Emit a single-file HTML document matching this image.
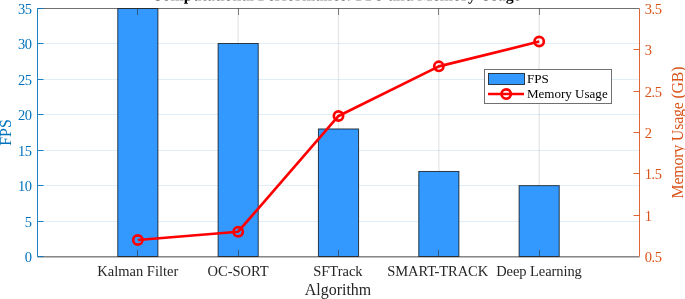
<!DOCTYPE html>
<html lang="en"><head><meta charset="utf-8"><title>Computational Performance: FPS and Memory Usage</title>
<style>html,body{margin:0;padding:0;background:#fff;overflow:hidden}</style></head>
<body>
<svg width="685" height="299" viewBox="0 0 685 299" style="display:block" font-family="'Liberation Serif', serif">
<rect width="685" height="299" fill="#fff"/>
<line x1="137.83" y1="8.5" x2="137.83" y2="256.5" stroke="#262626" stroke-opacity="0.115" stroke-width="1.3"/>
<line x1="238.17" y1="8.5" x2="238.17" y2="256.5" stroke="#262626" stroke-opacity="0.115" stroke-width="1.3"/>
<line x1="338.50" y1="8.5" x2="338.50" y2="256.5" stroke="#262626" stroke-opacity="0.115" stroke-width="1.3"/>
<line x1="438.83" y1="8.5" x2="438.83" y2="256.5" stroke="#262626" stroke-opacity="0.115" stroke-width="1.3"/>
<line x1="539.17" y1="8.5" x2="539.17" y2="256.5" stroke="#262626" stroke-opacity="0.115" stroke-width="1.3"/>
<line x1="37.5" y1="221.50" x2="639.5" y2="221.50" stroke="#0072BD" stroke-opacity="0.12" stroke-width="1"/>
<line x1="37.5" y1="185.50" x2="639.5" y2="185.50" stroke="#0072BD" stroke-opacity="0.12" stroke-width="1"/>
<line x1="37.5" y1="150.50" x2="639.5" y2="150.50" stroke="#0072BD" stroke-opacity="0.12" stroke-width="1"/>
<line x1="37.5" y1="114.50" x2="639.5" y2="114.50" stroke="#0072BD" stroke-opacity="0.12" stroke-width="1"/>
<line x1="37.5" y1="79.50" x2="639.5" y2="79.50" stroke="#0072BD" stroke-opacity="0.12" stroke-width="1"/>
<line x1="37.5" y1="43.50" x2="639.5" y2="43.50" stroke="#0072BD" stroke-opacity="0.12" stroke-width="1"/>
<rect x="117.77" y="8.50" width="40.13" height="248.00" fill="#3399FF" stroke="#000" stroke-opacity="0.72" stroke-width="1"/>
<rect x="218.10" y="43.50" width="40.13" height="213.00" fill="#3399FF" stroke="#000" stroke-opacity="0.72" stroke-width="1"/>
<rect x="318.43" y="128.96" width="40.13" height="127.54" fill="#3399FF" stroke="#000" stroke-opacity="0.72" stroke-width="1"/>
<rect x="418.77" y="171.47" width="40.13" height="85.03" fill="#3399FF" stroke="#000" stroke-opacity="0.72" stroke-width="1"/>
<rect x="519.10" y="185.64" width="40.13" height="70.86" fill="#3399FF" stroke="#000" stroke-opacity="0.72" stroke-width="1"/>
<line x1="37.5" y1="256.5" x2="639.5" y2="256.5" stroke="#262626" stroke-opacity="0.55" stroke-width="1"/>
<line x1="37.5" y1="257.5" x2="639.5" y2="257.5" stroke="#262626" stroke-opacity="0.3" stroke-width="1"/>
<line x1="37.5" y1="8.5" x2="639.5" y2="8.5" stroke="#262626" stroke-opacity="0.66" stroke-width="1"/>
<line x1="137.50" y1="256.5" x2="137.50" y2="250.0" stroke="#262626" stroke-opacity="0.55" stroke-width="1"/>
<line x1="137.50" y1="8.5" x2="137.50" y2="15.0" stroke="#262626" stroke-opacity="0.55" stroke-width="1"/>
<line x1="238.50" y1="256.5" x2="238.50" y2="250.0" stroke="#262626" stroke-opacity="0.55" stroke-width="1"/>
<line x1="238.50" y1="8.5" x2="238.50" y2="15.0" stroke="#262626" stroke-opacity="0.55" stroke-width="1"/>
<line x1="338.50" y1="256.5" x2="338.50" y2="250.0" stroke="#262626" stroke-opacity="0.55" stroke-width="1"/>
<line x1="338.50" y1="8.5" x2="338.50" y2="15.0" stroke="#262626" stroke-opacity="0.55" stroke-width="1"/>
<line x1="438.50" y1="256.5" x2="438.50" y2="250.0" stroke="#262626" stroke-opacity="0.55" stroke-width="1"/>
<line x1="438.50" y1="8.5" x2="438.50" y2="15.0" stroke="#262626" stroke-opacity="0.55" stroke-width="1"/>
<line x1="539.50" y1="256.5" x2="539.50" y2="250.0" stroke="#262626" stroke-opacity="0.55" stroke-width="1"/>
<line x1="539.50" y1="8.5" x2="539.50" y2="15.0" stroke="#262626" stroke-opacity="0.55" stroke-width="1"/>
<line x1="37.5" y1="8.5" x2="37.5" y2="256.5" stroke="#0072BD" stroke-opacity="0.88" stroke-width="1"/>
<line x1="639.5" y1="8.5" x2="639.5" y2="256.5" stroke="#D95319" stroke-opacity="0.88" stroke-width="1"/>
<line x1="37.5" y1="256.50" x2="43.5" y2="256.50" stroke="#0072BD" stroke-opacity="0.88" stroke-width="1"/>
<text x="32.0" y="262.00" font-size="14.5" fill="#0072BD" text-anchor="end">0</text>
<line x1="37.5" y1="221.50" x2="43.5" y2="221.50" stroke="#0072BD" stroke-opacity="0.88" stroke-width="1"/>
<text x="32.0" y="227.00" font-size="14.5" fill="#0072BD" text-anchor="end">5</text>
<line x1="37.5" y1="185.50" x2="43.5" y2="185.50" stroke="#0072BD" stroke-opacity="0.88" stroke-width="1"/>
<text x="32.0" y="191.00" font-size="14.5" fill="#0072BD" text-anchor="end" textLength="14.0" lengthAdjust="spacing">10</text>
<line x1="37.5" y1="150.50" x2="43.5" y2="150.50" stroke="#0072BD" stroke-opacity="0.88" stroke-width="1"/>
<text x="32.0" y="156.00" font-size="14.5" fill="#0072BD" text-anchor="end" textLength="14.0" lengthAdjust="spacing">15</text>
<line x1="37.5" y1="114.50" x2="43.5" y2="114.50" stroke="#0072BD" stroke-opacity="0.88" stroke-width="1"/>
<text x="32.0" y="120.00" font-size="14.5" fill="#0072BD" text-anchor="end" textLength="14.0" lengthAdjust="spacing">20</text>
<line x1="37.5" y1="79.50" x2="43.5" y2="79.50" stroke="#0072BD" stroke-opacity="0.88" stroke-width="1"/>
<text x="32.0" y="85.00" font-size="14.5" fill="#0072BD" text-anchor="end" textLength="14.0" lengthAdjust="spacing">25</text>
<line x1="37.5" y1="43.50" x2="43.5" y2="43.50" stroke="#0072BD" stroke-opacity="0.88" stroke-width="1"/>
<text x="32.0" y="49.00" font-size="14.5" fill="#0072BD" text-anchor="end" textLength="14.0" lengthAdjust="spacing">30</text>
<line x1="37.5" y1="8.50" x2="43.5" y2="8.50" stroke="#0072BD" stroke-opacity="0.88" stroke-width="1"/>
<text x="32.0" y="14.00" font-size="14.5" fill="#0072BD" text-anchor="end" textLength="14.0" lengthAdjust="spacing">35</text>
<text x="644.7" y="262.00" font-size="14.5" letter-spacing="-0.45" fill="#D95319">0.5</text>
<line x1="639.5" y1="215.50" x2="633.5" y2="215.50" stroke="#D95319" stroke-opacity="0.88" stroke-width="1"/>
<text x="644.7" y="221.00" font-size="14.5" letter-spacing="-0.45" fill="#D95319">1</text>
<line x1="639.5" y1="173.50" x2="633.5" y2="173.50" stroke="#D95319" stroke-opacity="0.88" stroke-width="1"/>
<text x="644.7" y="179.00" font-size="14.5" letter-spacing="-0.45" fill="#D95319">1.5</text>
<line x1="639.5" y1="132.50" x2="633.5" y2="132.50" stroke="#D95319" stroke-opacity="0.88" stroke-width="1"/>
<text x="644.7" y="138.00" font-size="14.5" letter-spacing="-0.45" fill="#D95319">2</text>
<line x1="639.5" y1="91.50" x2="633.5" y2="91.50" stroke="#D95319" stroke-opacity="0.88" stroke-width="1"/>
<text x="644.7" y="97.00" font-size="14.5" letter-spacing="-0.45" fill="#D95319">2.5</text>
<line x1="639.5" y1="49.50" x2="633.5" y2="49.50" stroke="#D95319" stroke-opacity="0.88" stroke-width="1"/>
<text x="644.7" y="55.00" font-size="14.5" letter-spacing="-0.45" fill="#D95319">3</text>
<text x="644.7" y="14.00" font-size="14.5" letter-spacing="-0.45" fill="#D95319">3.5</text>
<polyline points="137.83,239.97 238.17,231.70 338.50,115.97 438.83,66.37 539.17,41.57" fill="none" stroke="#FF0000" stroke-width="2.65" stroke-linejoin="round"/>
<circle cx="137.83" cy="239.97" r="4.65" fill="none" stroke="#FF0000" stroke-width="2.7"/>
<circle cx="238.17" cy="231.70" r="4.65" fill="none" stroke="#FF0000" stroke-width="2.7"/>
<circle cx="338.50" cy="115.97" r="4.65" fill="none" stroke="#FF0000" stroke-width="2.7"/>
<circle cx="438.83" cy="66.37" r="4.65" fill="none" stroke="#FF0000" stroke-width="2.7"/>
<circle cx="539.17" cy="41.57" r="4.65" fill="none" stroke="#FF0000" stroke-width="2.7"/>
<text x="137.8" y="275.8" font-size="14.5" fill="#262626" text-anchor="middle">Kalman Filter</text>
<text x="238.1" y="275.8" font-size="14.5" fill="#262626" text-anchor="middle">OC-SORT</text>
<text x="337.9" y="275.8" font-size="14.5" fill="#262626" text-anchor="middle">SFTrack</text>
<text x="437.7" y="275.8" font-size="14.5" fill="#262626" text-anchor="middle" textLength="100.9" lengthAdjust="spacing">SMART-TRACK</text>
<text x="539.0" y="275.8" font-size="14.5" fill="#262626" text-anchor="middle" textLength="85.6" lengthAdjust="spacing">Deep Learning</text>
<text x="338" y="295.2" font-size="15.95" fill="#262626" text-anchor="middle">Algorithm</text>
<text transform="translate(11.3,132.50) rotate(-90)" font-size="15.95" fill="#0072BD" text-anchor="middle">FPS</text>
<text transform="translate(682.9,132.50) rotate(-90)" font-size="15.95" fill="#D95319" text-anchor="middle" textLength="132.1" lengthAdjust="spacing">Memory Usage (GB)</text>
<text x="335.9" y="0.22" text-rendering="geometricPrecision" transform="rotate(0.03 335.9 0)" font-size="15.95" font-weight="bold" fill="#000" text-anchor="middle">Computational Performance: FPS and Memory Usage</text>
<rect x="484.5" y="69.5" width="127" height="34" fill="#fff" stroke="#262626" stroke-opacity="0.66" stroke-width="1"/>
<rect x="488.5" y="73.5" width="36" height="11" fill="#3399FF" stroke="#000" stroke-opacity="0.72" stroke-width="1"/>
<line x1="488" y1="94.1" x2="524" y2="94.1" stroke="#FF0000" stroke-width="2.5"/>
<circle cx="506.2" cy="94.1" r="4.65" fill="none" stroke="#FF0000" stroke-width="2.7"/>
<text x="526.9" y="83.2" font-size="13.05" fill="#000">FPS</text>
<text x="526.9" y="98.4" font-size="13.05" fill="#000">Memory Usage</text>
</svg>
</body></html>
